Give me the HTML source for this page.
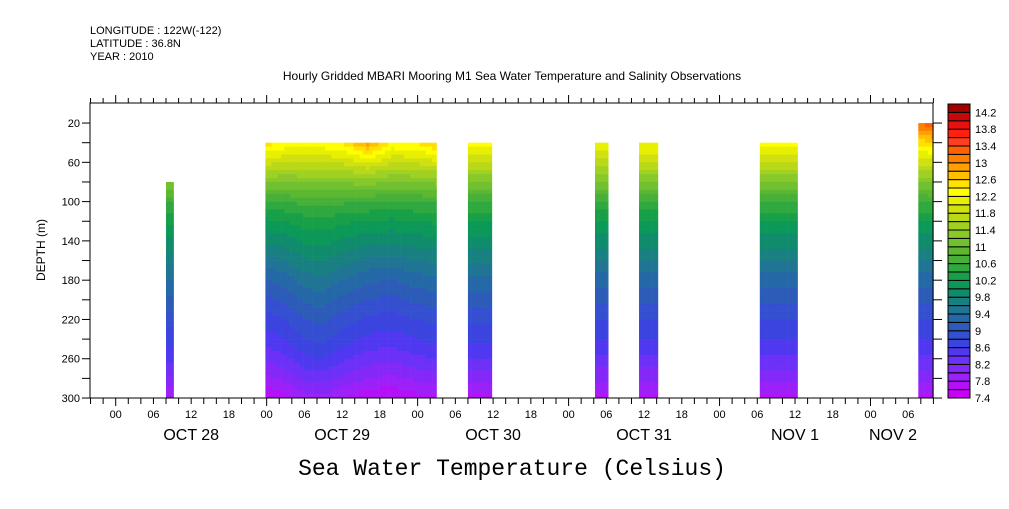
<!DOCTYPE html>
<html><head><meta charset="utf-8"><style>
body{margin:0;background:#fff}
svg text{font-family:"Liberation Sans",sans-serif;fill:#000}
</style></head><body>
<svg id="c" width="1009" height="504" xmlns="http://www.w3.org/2000/svg">
<text x="90" y="34" font-size="11">LONGITUDE : 122W(-122)</text>
<text x="90" y="47" font-size="11">LATITUDE : 36.8N</text>
<text x="90" y="60" font-size="11">YEAR : 2010</text>
<text x="512" y="80" font-size="12" text-anchor="middle">Hourly Gridded MBARI Mooring M1 Sea Water Temperature and Salinity Observations</text>
<text x="512" y="475" font-size="23" text-anchor="middle" style="font-family:'Liberation Mono',monospace">Sea Water Temperature (Celsius)</text>
<text transform="translate(45,250) rotate(-90)" font-size="12" text-anchor="middle">DEPTH (m)</text>
<g id="plot"></g><g id="axes"></g><g id="cbar"></g>
</svg>
<script>
const levels=[7.4,7.6,7.8,8.0,8.2,8.4,8.6,8.8,9.0,9.2,9.4,9.6,9.8,10.0,10.2,10.4,10.6,10.8,11.0,11.2,11.4,11.6,11.8,12.0,12.2,12.4,12.6,12.8,13.0,13.2,13.4,13.6,13.8,14.0,14.2];
const colors=["#cc00f8","#b410f8","#9c20f8","#8428f8","#6c30f8","#5038f0","#3c44e0","#3450d0","#2c5cb8","#2468a8","#207494","#188080","#108c6c","#0c9858","#18a048","#30a840","#48b038","#5cb830","#70c030","#88c828","#a0d020","#b8d818","#d0e010","#e8f000","#ffff00","#ffe000","#ffc000","#ffa000","#ff8000","#ff6000","#ff4020","#ff2010","#e81010","#c80808","#a00000"];
const profileDepths=[20,40,60,80,100,120,140,160,180,200,220,240,260,280,300];
const profileTemps=[12.9,12.3,11.8,11.2,10.6,10.2,9.9,9.6,9.3,9.05,8.8,8.6,8.35,8.05,7.7];
const blockStart=[8,23.8,56,76.2,83.2,102.4,127.6];
const blockEnd=[9.2,51,59.8,78.3,86.2,108.4,130];
const blockTop=[80,40,40,40,40,40,20];
const knotHours=[0,8,24,27,30,33,36,40,44,48,51,56,60,76,78,83,86,102,108,127,130];
const shallowAnom=[0,0,0.3,0.1,0.0,0.1,0.2,1.0,0.1,0.2,0.6,0,0,-0.2,-0.2,-0.1,-0.1,0.1,0.0,0.3,0.4];
const deepAnom=[0,0.1,-0.1,0,0.2,0.25,0.1,-0.05,-0.1,0,0.05,0.05,0.05,0.0,0.0,0.0,0.0,0.0,0.0,0.0,0.0];
const depthTicks=[20,60,100,140,180,220,260,300];
const hourLabels=["00","06","12","18"];
const dayLabels=["OCT 28","OCT 29","OCT 30","OCT 31","NOV  1","NOV  2"];
const cbLabels=[7.4,7.8,8.2,8.6,9,9.4,9.8,10.2,10.6,11,11.4,11.8,12.2,12.6,13,13.4,13.8,14.2];

const NS="http://www.w3.org/2000/svg";
const L=90,R=933,T=103,B=398;
const xS=h=>115.7+h*6.29;
const yS=d=>103.4+d*0.9821;
function interp(xs,ys,x){if(x<=xs[0])return ys[0];for(let i=1;i<xs.length;i++)if(x<=xs[i]){const f=(x-xs[i-1])/(xs[i]-xs[i-1]);return ys[i-1]+f*(ys[i]-ys[i-1]);}return ys[ys.length-1];}
function temp(h,d){const base=interp(profileDepths,profileTemps,d);const sw=Math.exp(-Math.max(0,d-30)/22);const dw=Math.min(1,Math.max(0,(d-60)/120));return base+interp(knotHours,shallowAnom,h)*sw+interp(knotHours,deepAnom,h)*dw;}
function colorOf(t){let i=0;for(let k=0;k<levels.length;k++)if(t>=levels[k])i=k;return colors[i];}
function mk(tag,a,p){const e=document.createElementNS(NS,tag);for(const k in a)e.setAttribute(k,a[k]);p.appendChild(e);return e;}
const plot=document.getElementById('plot');
blockStart.forEach((s,b)=>{
  const g=mk('g',{},plot);
  
  
  const dh=0.5,dd=4;
  for(let h=s;h<blockEnd[b]-1e-6;h+=dh){
    const h2=Math.min(h+dh,blockEnd[b]);
    for(let d=blockTop[b];d<300-1e-6;d+=dd){
      mk('rect',{x:xS(h),y:yS(d),width:xS(h2)-xS(h)+0.3,height:yS(Math.min(d+dd,300))-yS(d)+0.3,fill:colorOf(temp((h+h2)/2,d+dd/2))},g);
    }
  }
});
const ax=document.getElementById('axes');
mk('rect',{x:L,y:T,width:R-L,height:B-T,fill:'none',stroke:'#000','stroke-width':1},ax);
for(let h=-4;h<=130;h+=2){const x=xS(h);const maj=((h%24)+24)%24===0;
  mk('line',{x1:x,y1:B,x2:x,y2:B+(maj?8:6),stroke:'#000'},ax);
  mk('line',{x1:x,y1:T,x2:x,y2:T-(maj?8:5),stroke:'#000'},ax);
  if(h>=0&&h%6===0){const t=mk('text',{x:x,y:418,'font-size':11,'text-anchor':'middle'},ax);t.textContent=hourLabels[(h%24)/6];
    }
}
dayLabels.forEach((s,i)=>{const t=mk('text',{x:Math.min(xS(i*24+12),R-40),y:440,'font-size':16,'text-anchor':'middle'},ax);t.textContent=s;
  });
for(let d=20;d<=300;d+=20){mk('line',{x1:L-8,y1:yS(d),x2:L,y2:yS(d),stroke:'#000'},ax);mk('line',{x1:R,y1:yS(d),x2:R+9,y2:yS(d),stroke:'#000'},ax);}
depthTicks.forEach(d=>{const t=mk('text',{x:80,y:yS(d)+4,'font-size':11,'text-anchor':'end'},ax);t.textContent=d;
  });
const cb=document.getElementById('cbar');

const cT=104,cB=398,bh=(cB-cT)/levels.length;
levels.forEach((v,i)=>{const r=mk('rect',{x:948,y:cB-(i+1)*bh,width:22,height:bh,fill:colors[i],stroke:'#000','stroke-width':1},cb);
  });
cbLabels.forEach(v=>{const i=Math.round((v-7.4)/0.2);const t=mk('text',{x:975,y:cB-i*bh+4,'font-size':11},cb);t.textContent=v;
  });
</script>
</body></html>
